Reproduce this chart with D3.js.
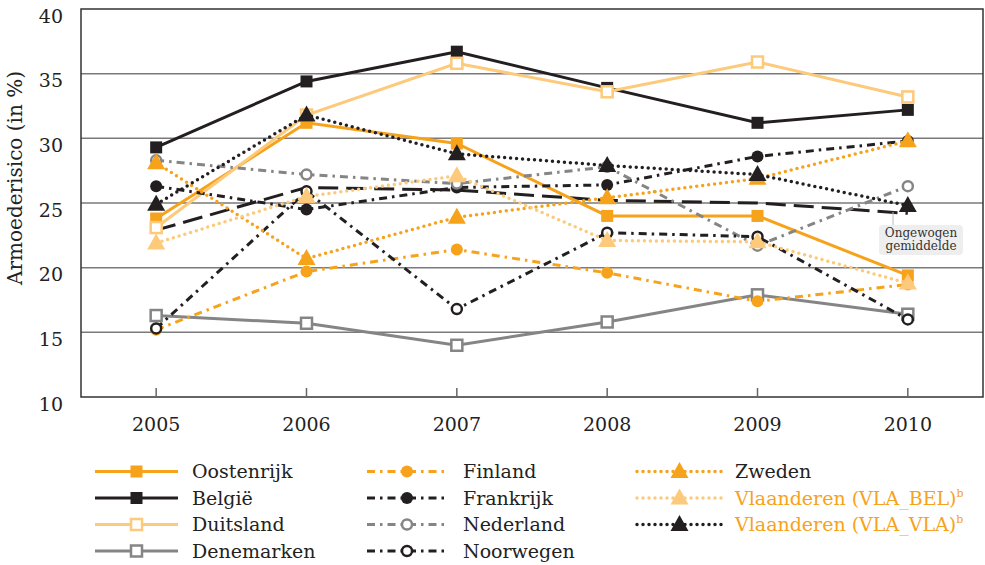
<!DOCTYPE html>
<html><head><meta charset="utf-8">
<script src="https://cdn.jsdelivr.net/npm/d3@7"></script>
<style>
body{margin:0;background:#fff;}
text{font-family:"DejaVu Serif",serif;}
</style></head>
<body><svg id="chart" width="985" height="565"></svg>
<script>
const years = [2005, 2006, 2007, 2008, 2009, 2010];
const yTicks = [10, 15, 20, 25, 30, 35, 40];
const oostenrijk = [23.8, 31.2, 29.6, 24.0, 24.0, 19.4];
const belgie = [29.3, 34.4, 36.7, 33.9, 31.2, 32.2];
const duitsland = [23.1, 31.8, 35.8, 33.6, 35.9, 33.2];
const denemarken = [16.3, 15.7, 14.0, 15.8, 17.9, 16.4];
const finland = [15.2, 19.7, 21.4, 19.6, 17.4, 18.7];
const frankrijk = [26.3, 24.5, 26.2, 26.4, 28.6, 29.8];
const nederland = [28.3, 27.2, 26.5, 27.8, 21.7, 26.3];
const noorwegen = [15.3, 25.9, 16.8, 22.7, 22.4, 16.0];
const zweden = [28.1, 20.7, 23.9, 25.4, 26.9, 29.8];
const vlaBel = [21.9, 25.5, 27.1, 22.1, 22.0, 18.8];
const vlaVla = [24.9, 31.8, 28.8, 27.9, 27.2, 24.8];
const gemiddelde = [22.9, 26.2, 26.0, 25.2, 25.0, 24.2];

const ORANGE = "#F7A21B", BLACK = "#231F20", LIGHT = "#FDC97A", GRAY = "#858585";
const DASHDOT = "8,5,2.5,5";
const series = [
  {name:"Oostenrijk", values:oostenrijk, color:ORANGE, dash:null, marker:"square", fill:ORANGE, col:0, row:0, tc:"#222"},
  {name:"België", values:belgie, color:BLACK, dash:null, marker:"square", fill:BLACK, col:0, row:1, tc:"#222"},
  {name:"Duitsland", values:duitsland, color:LIGHT, dash:null, marker:"square", fill:"#fff", col:0, row:2, tc:"#222"},
  {name:"Denemarken", values:denemarken, color:GRAY, dash:null, marker:"square", fill:"#fff", col:0, row:3, tc:"#222"},
  {name:"Finland", values:finland, color:ORANGE, dash:DASHDOT, marker:"circle", fill:ORANGE, col:1, row:0, tc:"#222"},
  {name:"Frankrijk", values:frankrijk, color:BLACK, dash:DASHDOT, marker:"circle", fill:BLACK, col:1, row:1, tc:"#222"},
  {name:"Nederland", values:nederland, color:GRAY, dash:DASHDOT, marker:"circle", fill:"#fff", col:1, row:2, tc:"#222"},
  {name:"Noorwegen", values:noorwegen, color:BLACK, dash:DASHDOT, marker:"circle", fill:"#fff", col:1, row:3, tc:"#222"},
  {name:"Zweden", values:zweden, color:ORANGE, dash:"dot", marker:"triangle", fill:ORANGE, col:2, row:0, tc:"#222"},
  {name:"Vlaanderen (VLA_BEL)", values:vlaBel, color:LIGHT, dash:"dot", marker:"triangle", fill:LIGHT, col:2, row:1, tc:ORANGE, sup:"b"},
  {name:"Vlaanderen (VLA_VLA)", values:vlaVla, color:BLACK, dash:"dot", marker:"triangle", fill:BLACK, col:2, row:2, tc:ORANGE, sup:"b"}
];

const svg = d3.select("#chart");
const L = 81, R = 983, T = 9, B = 397;
const x = d3.scalePoint().domain(years).range([L, R]).padding(0.5);
const y = d3.scaleLinear().domain([10, 40]).range([B, T]);

// gridlines
svg.append("g").selectAll("line").data(yTicks.filter(v => v > 10 && v < 40)).join("line")
  .attr("x1", L).attr("x2", R).attr("y1", d => y(d)).attr("y2", d => y(d))
  .attr("stroke", "#7a7a7a").attr("stroke-width", 1.5);
// frame
svg.append("rect").attr("x", L).attr("y", T).attr("width", R - L).attr("height", B - T)
  .attr("fill", "none").attr("stroke", "#333").attr("stroke-width", 1.5);

// y axis labels
svg.append("g").selectAll("text").data(yTicks).join("text")
  .attr("x", 63).attr("y", d => y(d) + 7).attr("dy", "0.35em").attr("text-anchor", "end")
  .attr("font-size", 19).attr("fill", "#222").text(d => d);
// x axis ticks and labels
svg.append("g").selectAll("line").data(years).join("line")
  .attr("x1", d => x(d)).attr("x2", d => x(d)).attr("y1", B).attr("y2", B - 9)
  .attr("stroke", "#666").attr("stroke-width", 1.5);
svg.append("g").selectAll("text").data(years).join("text")
  .attr("x", d => x(d)).attr("y", 431).attr("text-anchor", "middle")
  .attr("font-size", 19).attr("fill", "#222").text(d => d);
// axis title
svg.append("text").attr("transform", "translate(22,178) rotate(-90)").attr("text-anchor", "middle")
  .attr("font-size", 20).attr("fill", "#222").text("Armoederisico (in %)");

const line = d3.line().x((d, i) => x(years[i])).y(d => y(d));

function styleLine(sel, s) {
  sel.attr("fill", "none").attr("stroke", s.color).attr("stroke-width", s.dash === "dot" ? 3.5 : 3);
  if (s.dash === "dot") sel.attr("stroke-dasharray", "0,6").attr("stroke-linecap", "round");
  else if (s.dash) sel.attr("stroke-dasharray", s.dash);
  return sel;
}
function drawMarker(g, s, cx, cy) {
  if (s.marker === "square") {
    const open = s.fill === "#fff";
    const sz = open ? 11 : 12;
    g.append("rect").attr("x", cx - sz / 2).attr("y", cy - sz / 2).attr("width", sz).attr("height", sz)
      .attr("fill", s.fill).attr("stroke", s.color).attr("stroke-width", open ? 2.5 : 0);
  } else if (s.marker === "circle") {
    const open = s.fill === "#fff";
    g.append("circle").attr("cx", cx).attr("cy", cy).attr("r", open ? 5 : 6)
      .attr("fill", s.fill).attr("stroke", s.color).attr("stroke-width", open ? 2.5 : 0);
  } else {
    const h = 16, w = 18;
    g.append("path").attr("d", `M${cx},${cy - h * 0.6}L${cx + w / 2},${cy + h * 0.4}L${cx - w / 2},${cy + h * 0.4}Z`)
      .attr("fill", s.fill);
  }
}

// average line
svg.append("path").datum(gemiddelde).attr("d", line).attr("fill", "none")
  .attr("stroke", BLACK).attr("stroke-width", 3).attr("stroke-dasharray", "20,8");

series.forEach(s => {
  const g = svg.append("g");
  styleLine(g.append("path").datum(s.values).attr("d", line), s);
  s.values.forEach((v, i) => drawMarker(g, s, x(years[i]), y(v)));
});

// annotation
const ax = 921;
svg.append("line").attr("x1", 893).attr("x2", 893).attr("y1", 212).attr("y2", 226)
  .attr("stroke", "#bbb").attr("stroke-width", 1);
svg.append("rect").attr("x", 879).attr("y", 225).attr("width", 84).attr("height", 30)
  .attr("rx", 4).attr("fill", "#eeeeee");
svg.append("text").attr("x", ax).attr("y", 237).attr("text-anchor", "middle")
  .attr("font-size", 12).attr("fill", "#333").text("Ongewogen");
svg.append("text").attr("x", ax).attr("y", 250).attr("text-anchor", "middle")
  .attr("font-size", 12).attr("fill", "#333").text("gemiddelde");

// legend
const colX = [[95, 178, 192], [367, 447, 463], [637, 722, 735]];
const rowY = [471.5, 498, 524.5, 551];
series.forEach(s => {
  const [x1, x2, tx] = colX[s.col], ly = rowY[s.row];
  const g = svg.append("g");
  styleLine(g.append("line").attr("x1", x1).attr("x2", x2).attr("y1", ly).attr("y2", ly), s);
  drawMarker(g, s, (x1 + x2) / 2, ly);
  const t = g.append("text").attr("x", tx).attr("y", ly).attr("dy", "0.35em")
    .attr("font-size", 19).attr("fill", s.tc).text(s.name);
  if (s.sup) t.append("tspan").attr("dy", "-0.7em").attr("font-size", 11).text(s.sup);
});
</script></body></html>
